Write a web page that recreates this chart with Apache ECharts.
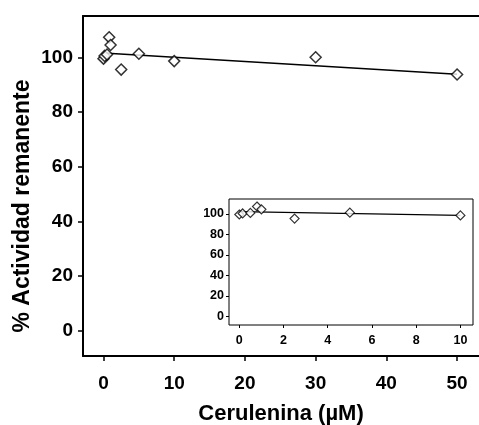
<!DOCTYPE html>
<html>
<head>
<meta charset="utf-8">
<script src="https://cdn.jsdelivr.net/npm/echarts@6/dist/echarts.min.js"></script>
<style>
  html, body { margin: 0; padding: 0; background: #fff; }
  #chart { width: 479px; height: 425px; }
</style>
</head>
<body>
<div id="chart"></div>
<script>
// Remaining enzyme activity vs. cerulenin concentration
const doses = [0, 0.15, 0.5, 0.8, 1, 2.5, 5, 10, 30, 50];          // µM
const activity = [99.5, 100.5, 101, 107.3, 104.5, 95.5, 101.3, 98.6, 100, 93.7]; // %

// Linear fit endpoints (full range and 0–10 µM range)
const fitMainX = [0, 50];
const fitMainY = [101.6, 93.8];
const fitInsetX = [0, 10];
const fitInsetY = [102.3, 98.6];

// Tick values
const mainXTicks = [0, 10, 20, 30, 40, 50];
const mainYTicks = [0, 20, 40, 60, 80, 100];
const insetXTicks = [0, 2, 4, 6, 8, 10];
const insetYTicks = [0, 20, 40, 60, 80, 100];

const font = "'Liberation Sans', Arial, Helvetica, sans-serif";

const mainPts = doses.map((d, i) => [d, activity[i]]);
const insetPts = doses.map((d, i) => [d, activity[i]]).filter(p => p[0] <= 10);
const mainFit = fitMainX.map((x, i) => [x, fitMainY[i]]);
const insetFit = fitInsetX.map((x, i) => [x, fitInsetY[i]]);

const chart = echarts.init(document.getElementById('chart'), null, { renderer: 'canvas' });

chart.setOption({
  animation: false,
  backgroundColor: '#fff',
  grid: [
    { left: 83, top: 16, width: 396, height: 340, containLabel: false, outerBoundsMode: 'none' },
    { left: 229, top: 199, width: 244, height: 126, containLabel: false, outerBoundsMode: 'none',
      show: true, backgroundColor: '#fff', borderColor: '#000', borderWidth: 1, z: 5 }
  ],
  xAxis: [
    {
      type: 'value', gridIndex: 0, min: -2.9, max: 53.1,
      name: 'Cerulenina (µM)', nameLocation: 'middle', nameGap: 58, nameMoveOverlap: false,
      nameTextStyle: { fontFamily: font, fontWeight: 'bold', fontSize: 22, color: '#000', verticalAlign: 'middle' },
      splitLine: { show: false },
      axisLine: { show: true, onZero: false, lineStyle: { color: '#000', width: 2 } },
      axisTick: { show: true, inside: false, length: 5, customValues: mainXTicks, lineStyle: { color: '#000', width: 1.5 } },
      axisLabel: { customValues: mainXTicks, margin: 18, fontFamily: font, fontWeight: 'bold', fontSize: 19, color: '#000' }
    },
    {
      type: 'value', gridIndex: 0, position: 'top', min: -2.9, max: 53.1,
      splitLine: { show: false },
      axisLine: { show: true, onZero: false, lineStyle: { color: '#000', width: 2 } },
      axisTick: { show: false }, axisLabel: { show: false }
    },
    {
      type: 'value', gridIndex: 1, min: -0.466, max: 10.57,
      splitLine: { show: false },
      axisLine: { show: false, onZero: false },
      axisTick: { show: true, inside: false, length: 3, customValues: insetXTicks, lineStyle: { color: '#000', width: 1 } },
      axisLabel: { customValues: insetXTicks, margin: 9, fontFamily: font, fontWeight: 'bold', fontSize: 12.5, color: '#000' },
      z: 6
    }
  ],
  yAxis: [
    {
      type: 'value', gridIndex: 0, min: -9.25, max: 115.1,
      name: '% Actividad remanente', nameLocation: 'middle', nameGap: 60, nameMoveOverlap: false,
      nameTextStyle: { fontFamily: font, fontWeight: 'bold', fontSize: 23, color: '#000', verticalAlign: 'middle', padding: [0, 40, 0, 0] },
      splitLine: { show: false },
      axisLine: { show: true, onZero: false, lineStyle: { color: '#000', width: 2 } },
      axisTick: { show: true, inside: false, length: 5, customValues: mainYTicks, lineStyle: { color: '#000', width: 1.5 } },
      axisLabel: { customValues: mainYTicks, margin: 10, fontFamily: font, fontWeight: 'bold', fontSize: 19, color: '#000' }
    },
    {
      type: 'value', gridIndex: 1, min: -8.3, max: 114.6,
      splitLine: { show: false },
      axisLine: { show: false, onZero: false },
      axisTick: { show: true, inside: false, length: 3, customValues: insetYTicks, lineStyle: { color: '#000', width: 1 } },
      axisLabel: { customValues: insetYTicks, margin: 5, fontFamily: font, fontWeight: 'bold', fontSize: 12.5, color: '#000' },
      z: 6
    }
  ],
  series: [
    {
      type: 'line', xAxisIndex: 0, yAxisIndex: 0, data: mainFit,
      showSymbol: false, symbol: 'none', silent: true,
      lineStyle: { color: '#000', width: 1.5 }, z: 2
    },
    {
      type: 'scatter', xAxisIndex: 0, yAxisIndex: 0, data: mainPts,
      symbol: 'diamond', symbolSize: 11,
      itemStyle: { color: '#fff', borderColor: '#000', borderWidth: 1.5 }, z: 3
    },
    {
      type: 'line', xAxisIndex: 2, yAxisIndex: 1, data: insetFit,
      showSymbol: false, symbol: 'none', silent: true,
      lineStyle: { color: '#000', width: 1.2 }, z: 7
    },
    {
      type: 'scatter', xAxisIndex: 2, yAxisIndex: 1, data: insetPts,
      symbol: 'diamond', symbolSize: 9,
      itemStyle: { color: '#fff', borderColor: '#000', borderWidth: 1.2 }, z: 8
    }
  ]
});
</script>
</body>
</html>
